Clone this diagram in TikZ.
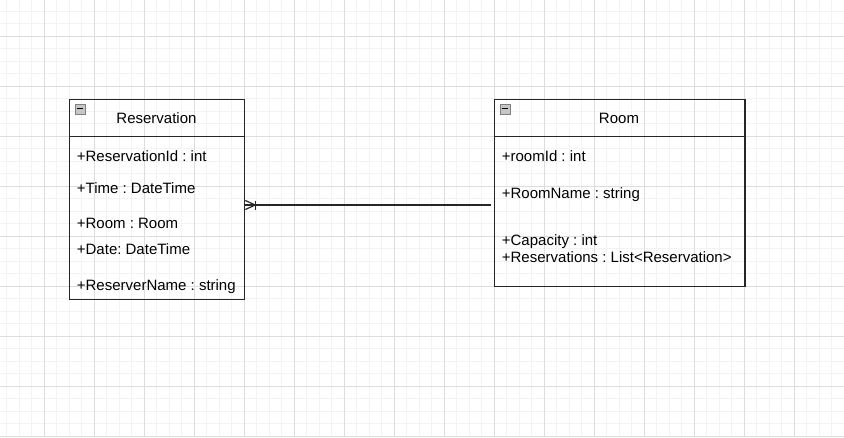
\documentclass[tikz,border=0pt]{standalone}
\usepackage{fontspec}
\setmainfont{Liberation Sans}
\frenchspacing
\usetikzlibrary{positioning}
\definecolor{gridminor}{HTML}{F3F3F3}
\definecolor{gridmajor}{HTML}{DDDDDD}
\definecolor{linegray}{HTML}{262626}
\tikzset{
  classbox/.style={draw=linegray,line width=1.3pt,inner sep=0pt,anchor=north west},
  classtitle/.style={inner sep=0pt,yshift=-1pt,font=\fontsize{15}{18}\selectfont},
  attr/.style={anchor=west,inner sep=0pt,yshift=-1.5pt,text height=11pt,text depth=3pt,font=\fontsize{15}{18}\selectfont},
  minusicon/.style={draw=gray,fill=gray!45,minimum size=10pt,inner sep=0pt},
  conn/.style={draw=linegray,line width=1.2pt}
}
\begin{document}
\begin{tikzpicture}[x=1pt,y=-1pt]
\useasboundingbox[fill=white] (0,0) rectangle (844,437);
% grid
\foreach \i in {0,...,68}
  \draw[gridminor,line width=1pt] (\i*12.5-5.7,0) -- (\i*12.5-5.7,437);
\foreach \i in {1,...,36}
  \draw[gridminor,line width=1pt] (0,\i*12.5-14) -- (844,\i*12.5-14);
\foreach \i in {0,...,17}
  \draw[gridmajor,line width=1pt] (\i*50-5.7,0) -- (\i*50-5.7,437);
\foreach \i in {1,...,9}
  \draw[gridmajor,line width=1pt] (0,\i*50-14) -- (844,\i*50-14);

% Reservation
\node[classbox,minimum width=175pt,minimum height=200pt] (res) at (69,99) {};
\draw[classbox] (69,136.7) -- (244,136.7);
\node[minusicon] (resicon) at (79.7,108.7) {};
\draw[line width=1.2pt] ([xshift=2pt]resicon.west) -- ([xshift=-2pt]resicon.east);
\node[classtitle] (restitle) at (156.5,117) {Reservation};
\node[attr] (resid) at (76.7,155.7) {+ReservationId : int};
\node[attr] (restime) at (76.7,187.7) {+Time : DateTime};
\node[attr] (resroom) at (76.7,223) {+Room : Room};
\node[attr] (resdate) at (76.7,249) {+Date: DateTime};
\node[attr] (resname) at (76.7,285) {+ReserverName : string};

% Room
\node[classbox,minimum width=250.3pt,minimum height=187pt] (room) at (494,99) {};
\draw[classbox] (494,136.7) -- (744.3,136.7);
\node[minusicon] (roomicon) at (504.7,108.7) {};
\draw[line width=1.2pt] ([xshift=2pt]roomicon.west) -- ([xshift=-2pt]roomicon.east);
\node[classtitle] (roomtitle) at (619,117) {Room};
\node[attr] (roomid) at (501.7,155.7) {+roomId : int};
\node[attr] (roomname) at (501.7,192.7) {+RoomName : string};
\node[attr] (roomcap) at (501.7,240) {+Capacity : int};
\node[attr] (roomres) at (501.7,257.3) {+Reservations : List<Reservation>};

% one to many
\coordinate (roomend) at (490.7,205);
\coordinate (resend) at (res.east |- roomend);
\draw[conn] (roomend) -- (resend);
\draw[conn] ([yshift=4.5pt]resend) -- ([xshift=10pt]resend) -- ([yshift=-4.5pt]resend);
\draw[conn] ([xshift=10pt,yshift=4.5pt]resend) -- ([xshift=10pt,yshift=-4.5pt]resend);
\end{tikzpicture}
\end{document}
